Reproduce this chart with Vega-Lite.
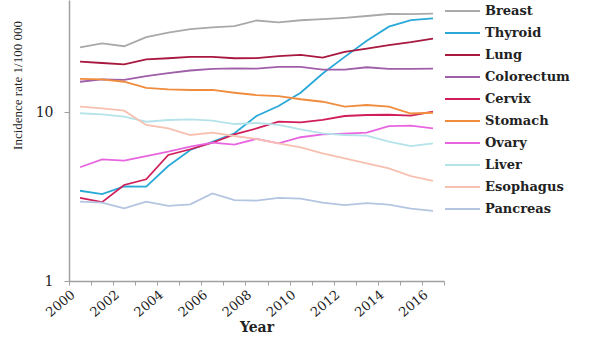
{
  "$schema": "https://vega.github.io/schema/vega-lite/v6.json",
  "autosize": "none",
  "width": 375,
  "height": 281,
  "padding": {"left": 69, "top": 0, "right": 156, "bottom": 60},
  "background": "white",
  "config": {"view": {"stroke": null}},
  "data": {"values": [
    {"year":2000,"site":"Breast","rate":24.1},{"year":2001,"site":"Breast","rate":25.5},{"year":2002,"site":"Breast","rate":24.5},{"year":2003,"site":"Breast","rate":27.7},{"year":2004,"site":"Breast","rate":29.5},{"year":2005,"site":"Breast","rate":30.9},{"year":2006,"site":"Breast","rate":31.7},{"year":2007,"site":"Breast","rate":32.2},{"year":2008,"site":"Breast","rate":34.8},{"year":2009,"site":"Breast","rate":33.9},{"year":2010,"site":"Breast","rate":34.9},{"year":2011,"site":"Breast","rate":35.4},{"year":2012,"site":"Breast","rate":36.1},{"year":2013,"site":"Breast","rate":37.0},{"year":2014,"site":"Breast","rate":38.0},{"year":2015,"site":"Breast","rate":37.9},{"year":2016,"site":"Breast","rate":38.2},
    {"year":2000,"site":"Thyroid","rate":3.42},{"year":2001,"site":"Thyroid","rate":3.27},{"year":2002,"site":"Thyroid","rate":3.63},{"year":2003,"site":"Thyroid","rate":3.62},{"year":2004,"site":"Thyroid","rate":4.79},{"year":2005,"site":"Thyroid","rate":5.96},{"year":2006,"site":"Thyroid","rate":6.67},{"year":2007,"site":"Thyroid","rate":7.48},{"year":2008,"site":"Thyroid","rate":9.47},{"year":2009,"site":"Thyroid","rate":10.85},{"year":2010,"site":"Thyroid","rate":13.0},{"year":2011,"site":"Thyroid","rate":16.9},{"year":2012,"site":"Thyroid","rate":21.2},{"year":2013,"site":"Thyroid","rate":26.4},{"year":2014,"site":"Thyroid","rate":32.0},{"year":2015,"site":"Thyroid","rate":35.0},{"year":2016,"site":"Thyroid","rate":35.8},
    {"year":2000,"site":"Lung","rate":19.85},{"year":2001,"site":"Lung","rate":19.5},{"year":2002,"site":"Lung","rate":19.15},{"year":2003,"site":"Lung","rate":20.5},{"year":2004,"site":"Lung","rate":20.8},{"year":2005,"site":"Lung","rate":21.2},{"year":2006,"site":"Lung","rate":21.2},{"year":2007,"site":"Lung","rate":20.8},{"year":2008,"site":"Lung","rate":20.85},{"year":2009,"site":"Lung","rate":21.4},{"year":2010,"site":"Lung","rate":21.8},{"year":2011,"site":"Lung","rate":21.0},{"year":2012,"site":"Lung","rate":22.7},{"year":2013,"site":"Lung","rate":23.7},{"year":2014,"site":"Lung","rate":24.9},{"year":2015,"site":"Lung","rate":25.9},{"year":2016,"site":"Lung","rate":27.2},
    {"year":2000,"site":"Colorectum","rate":15.1},{"year":2001,"site":"Colorectum","rate":15.6},{"year":2002,"site":"Colorectum","rate":15.5},{"year":2003,"site":"Colorectum","rate":16.3},{"year":2004,"site":"Colorectum","rate":17.0},{"year":2005,"site":"Colorectum","rate":17.6},{"year":2006,"site":"Colorectum","rate":18.0},{"year":2007,"site":"Colorectum","rate":18.1},{"year":2008,"site":"Colorectum","rate":18.05},{"year":2009,"site":"Colorectum","rate":18.5},{"year":2010,"site":"Colorectum","rate":18.5},{"year":2011,"site":"Colorectum","rate":17.8},{"year":2012,"site":"Colorectum","rate":17.8},{"year":2013,"site":"Colorectum","rate":18.4},{"year":2014,"site":"Colorectum","rate":18.0},{"year":2015,"site":"Colorectum","rate":18.0},{"year":2016,"site":"Colorectum","rate":18.05},
    {"year":2000,"site":"Cervix","rate":3.10},{"year":2001,"site":"Cervix","rate":2.93},{"year":2002,"site":"Cervix","rate":3.70},{"year":2003,"site":"Cervix","rate":4.0},{"year":2004,"site":"Cervix","rate":5.57},{"year":2005,"site":"Cervix","rate":6.02},{"year":2006,"site":"Cervix","rate":6.58},{"year":2007,"site":"Cervix","rate":7.38},{"year":2008,"site":"Cervix","rate":7.99},{"year":2009,"site":"Cervix","rate":8.76},{"year":2010,"site":"Cervix","rate":8.69},{"year":2011,"site":"Cervix","rate":8.97},{"year":2012,"site":"Cervix","rate":9.47},{"year":2013,"site":"Cervix","rate":9.6},{"year":2014,"site":"Cervix","rate":9.63},{"year":2015,"site":"Cervix","rate":9.51},{"year":2016,"site":"Cervix","rate":10.04},
    {"year":2000,"site":"Stomach","rate":15.7},{"year":2001,"site":"Stomach","rate":15.6},{"year":2002,"site":"Stomach","rate":15.1},{"year":2003,"site":"Stomach","rate":13.9},{"year":2004,"site":"Stomach","rate":13.6},{"year":2005,"site":"Stomach","rate":13.5},{"year":2006,"site":"Stomach","rate":13.5},{"year":2007,"site":"Stomach","rate":13.0},{"year":2008,"site":"Stomach","rate":12.6},{"year":2009,"site":"Stomach","rate":12.4},{"year":2010,"site":"Stomach","rate":11.9},{"year":2011,"site":"Stomach","rate":11.5},{"year":2012,"site":"Stomach","rate":10.75},{"year":2013,"site":"Stomach","rate":11.0},{"year":2014,"site":"Stomach","rate":10.75},{"year":2015,"site":"Stomach","rate":9.8},{"year":2016,"site":"Stomach","rate":9.9},
    {"year":2000,"site":"Ovary","rate":4.71},{"year":2001,"site":"Ovary","rate":5.25},{"year":2002,"site":"Ovary","rate":5.15},{"year":2003,"site":"Ovary","rate":5.49},{"year":2004,"site":"Ovary","rate":5.82},{"year":2005,"site":"Ovary","rate":6.23},{"year":2006,"site":"Ovary","rate":6.58},{"year":2007,"site":"Ovary","rate":6.41},{"year":2008,"site":"Ovary","rate":6.94},{"year":2009,"site":"Ovary","rate":6.53},{"year":2010,"site":"Ovary","rate":7.09},{"year":2011,"site":"Ovary","rate":7.38},{"year":2012,"site":"Ovary","rate":7.44},{"year":2013,"site":"Ovary","rate":7.54},{"year":2014,"site":"Ovary","rate":8.26},{"year":2015,"site":"Ovary","rate":8.30},{"year":2016,"site":"Ovary","rate":8.01},
    {"year":2000,"site":"Liver","rate":9.83},{"year":2001,"site":"Liver","rate":9.69},{"year":2002,"site":"Liver","rate":9.38},{"year":2003,"site":"Liver","rate":8.76},{"year":2004,"site":"Liver","rate":8.97},{"year":2005,"site":"Liver","rate":9.04},{"year":2006,"site":"Liver","rate":8.88},{"year":2007,"site":"Liver","rate":8.49},{"year":2008,"site":"Liver","rate":8.61},{"year":2009,"site":"Liver","rate":8.38},{"year":2010,"site":"Liver","rate":7.90},{"year":2011,"site":"Liver","rate":7.48},{"year":2012,"site":"Liver","rate":7.31},{"year":2013,"site":"Liver","rate":7.25},{"year":2014,"site":"Liver","rate":6.67},{"year":2015,"site":"Liver","rate":6.29},{"year":2016,"site":"Liver","rate":6.53},
    {"year":2000,"site":"Esophagus","rate":10.75},{"year":2001,"site":"Esophagus","rate":10.51},{"year":2002,"site":"Esophagus","rate":10.18},{"year":2003,"site":"Esophagus","rate":8.38},{"year":2004,"site":"Esophagus","rate":8.01},{"year":2005,"site":"Esophagus","rate":7.31},{"year":2006,"site":"Esophagus","rate":7.54},{"year":2007,"site":"Esophagus","rate":7.21},{"year":2008,"site":"Esophagus","rate":6.92},{"year":2009,"site":"Esophagus","rate":6.53},{"year":2010,"site":"Esophagus","rate":6.18},{"year":2011,"site":"Esophagus","rate":5.70},{"year":2012,"site":"Esophagus","rate":5.32},{"year":2013,"site":"Esophagus","rate":4.97},{"year":2014,"site":"Esophagus","rate":4.64},{"year":2015,"site":"Esophagus","rate":4.18},{"year":2016,"site":"Esophagus","rate":3.91},
    {"year":2000,"site":"Pancreas","rate":2.95},{"year":2001,"site":"Pancreas","rate":2.91},{"year":2002,"site":"Pancreas","rate":2.69},{"year":2003,"site":"Pancreas","rate":2.95},{"year":2004,"site":"Pancreas","rate":2.78},{"year":2005,"site":"Pancreas","rate":2.84},{"year":2006,"site":"Pancreas","rate":3.30},{"year":2007,"site":"Pancreas","rate":3.01},{"year":2008,"site":"Pancreas","rate":2.99},{"year":2009,"site":"Pancreas","rate":3.10},{"year":2010,"site":"Pancreas","rate":3.07},{"year":2011,"site":"Pancreas","rate":2.91},{"year":2012,"site":"Pancreas","rate":2.81},{"year":2013,"site":"Pancreas","rate":2.89},{"year":2014,"site":"Pancreas","rate":2.83},{"year":2015,"site":"Pancreas","rate":2.68},{"year":2016,"site":"Pancreas","rate":2.60}
  ]},
  "mark": {"type": "line", "strokeWidth": 1.8},
  "encoding": {
    "x": {
      "field": "year", "type": "ordinal",
      "scale": {"type": "band", "paddingInner": 0, "paddingOuter": 0},
      "axis": {
        "title": "Year",
        "titleFont": "DejaVu Serif", "titleFontSize": 14, "titleFontWeight": "bold", "titleColor": "#222222", "titlePadding": 1,
        "labelExpr": "datum.value % 2 == 0 ? datum.label : ''",
        "labelAngle": -40, "labelFont": "DejaVu Serif", "labelFontSize": 13, "labelColor": "#222222", "labelPadding": 3, "labelOffset": -11,
        "tickBand": "extent", "tickSize": 4, "tickColor": "#a0a0a0", "domainColor": "#a0a0a0", "domainWidth": 1.5,
        "grid": false
      }
    },
    "y": {
      "field": "rate", "type": "quantitative",
      "scale": {"type": "log", "domain": [1, 46], "nice": false},
      "axis": {
        "title": "Incidence rate 1/100 000",
        "titleFont": "Liberation Sans Narrow", "titleFontSize": 13, "titleFontWeight": "normal", "titleColor": "#222222",
        "titleX": -52, "titleY": 85, "titleAlign": "center", "titleBaseline": "middle",
        "values": [1, 10], "labelFont": "DejaVu Serif", "labelFontSize": 14, "labelColor": "#222222", "labelPadding": 11,
        "tickSize": 5, "tickColor": "#a0a0a0", "domainColor": "#a0a0a0", "domainWidth": 1.5,
        "grid": false
      }
    },
    "color": {
      "field": "site", "type": "nominal",
      "scale": {
        "domain": ["Breast","Thyroid","Lung","Colorectum","Cervix","Stomach","Ovary","Liver","Esophagus","Pancreas"],
        "range": ["#a9a9a9","#2aa9d9","#a8183f","#9e5fa8","#d01e5a","#ef8c3e","#e865e0","#b5e3ea","#f7c0b0","#b3c5e0"]
      },
      "legend": {
        "title": null, "orient": "right", "offset": 0, "padding": 0,
        "symbolType": "stroke", "symbolSize": 1225, "symbolStrokeWidth": 2,
        "labelFont": "DejaVu Serif", "labelFontSize": 13, "labelFontWeight": "bold", "labelColor": "#222222",
        "labelOffset": 4, "clipHeight": 22, "rowPadding": 0
      }
    }
  }
}
